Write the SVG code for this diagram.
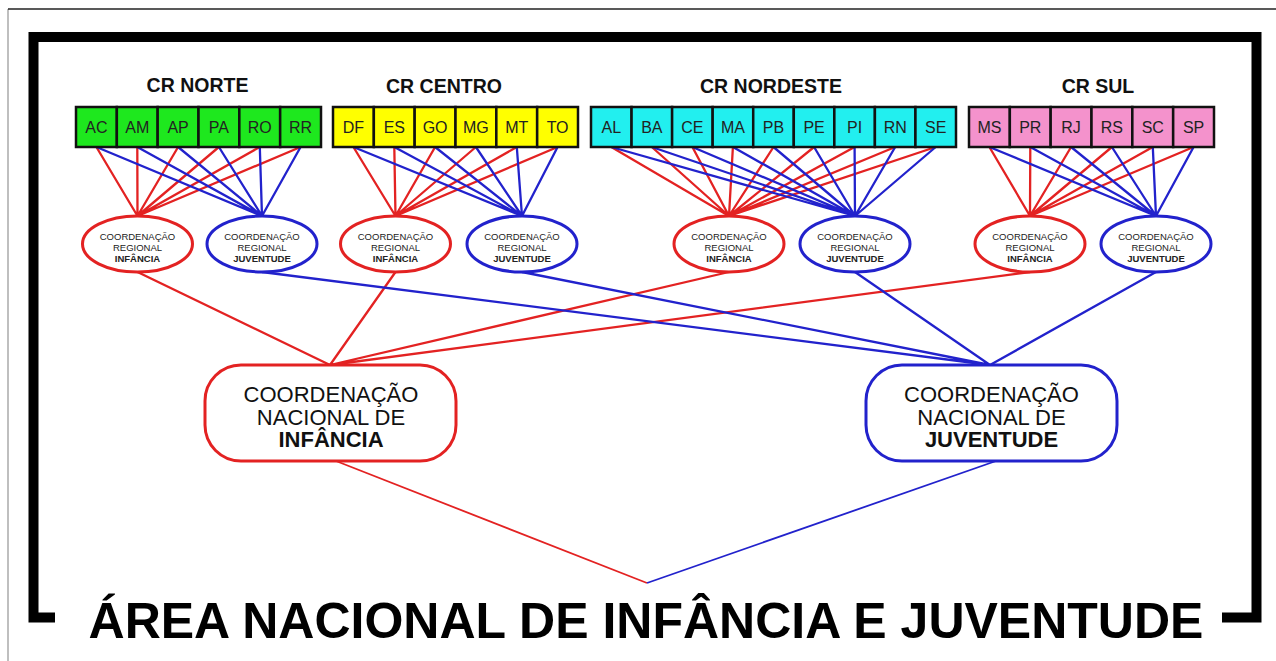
<svg xmlns="http://www.w3.org/2000/svg" width="1276" height="661" viewBox="0 0 1276 661">
<style>
.cell{stroke:#111;stroke-width:2.5}
.g{fill:#1ee81e}.y{fill:#ffff00}.c{fill:#22efef}.p{fill:#f492cc}
.st{font-family:"Liberation Sans",Arial,sans-serif;font-size:16px;fill:#222;text-anchor:middle}
.ttl{font-family:"Liberation Sans",Arial,sans-serif;font-size:19.5px;font-weight:bold;fill:#111;text-anchor:middle}
.ri{fill:#fff;stroke:#e32222;stroke-width:3}
.rj{fill:#fff;stroke:#2222cc;stroke-width:3}
.et{font-family:"Liberation Sans",Arial,sans-serif;font-size:9.5px;fill:#222;text-anchor:middle}
.nt{font-family:"Liberation Sans",Arial,sans-serif;font-size:22px;fill:#111;text-anchor:middle}
.b{font-weight:bold}
.lr{stroke:#e32222;stroke-width:2.3;fill:none}
.lb{stroke:#2222cc;stroke-width:2.3;fill:none}
</style>
<rect width="1276" height="661" fill="#fff"/>
<path d="M8 661 V9" stroke="#aaa" stroke-width="1.5" fill="none"/>
<path d="M8 9 H1276" stroke="#222" stroke-width="1.5" fill="none"/>
<path d="M55 617.5 H33.5 V37 H1256.5 V617.5 H1222" stroke="#000" stroke-width="10" fill="none" stroke-linejoin="miter"/>

<g id="connectors">
<!-- North -->
<g class="lr">
<path d="M96.4 147 L137.5 216 M137.3 147 L137.5 216 M178.1 147 L137.5 216 M218.9 147 L137.5 216 M259.8 147 L137.5 216 M300.6 147 L137.5 216"/>
<path d="M353.4 147 L395.5 216 M394.3 147 L395.5 216 M435.1 147 L395.5 216 M475.9 147 L395.5 216 M516.8 147 L395.5 216 M557.6 147 L395.5 216"/>
<path d="M611.3 147 L729 216 M651.8 147 L729 216 M692.4 147 L729 216 M732.9 147 L729 216 M773.5 147 L729 216 M814.1 147 L729 216 M854.6 147 L729 216 M895.2 147 L729 216 M935.7 147 L729 216"/>
<path d="M989.4 147 L1030 216 M1030.3 147 L1030 216 M1071.1 147 L1030 216 M1111.9 147 L1030 216 M1152.8 147 L1030 216 M1193.6 147 L1030 216"/>
<path d="M137.5 272 L330 365 M395.5 272 L330 365 M729 272 L330 365 M1030 272 L330 365"/>
<path d="M336 461 L647 583" stroke-width="1.8"/>
</g>
<g class="lb">
<path d="M96.4 147 L262 216 M137.3 147 L262 216 M178.1 147 L262 216 M218.9 147 L262 216 M259.8 147 L262 216 M300.6 147 L262 216"/>
<path d="M353.4 147 L522 216 M394.3 147 L522 216 M435.1 147 L522 216 M475.9 147 L522 216 M516.8 147 L522 216 M557.6 147 L522 216"/>
<path d="M611.3 147 L855 216 M651.8 147 L855 216 M692.4 147 L855 216 M732.9 147 L855 216 M773.5 147 L855 216 M814.1 147 L855 216 M854.6 147 L855 216 M895.2 147 L855 216 M935.7 147 L855 216"/>
<path d="M989.4 147 L1156 216 M1030.3 147 L1156 216 M1071.1 147 L1156 216 M1111.9 147 L1156 216 M1152.8 147 L1156 216 M1193.6 147 L1156 216"/>
<path d="M262 272 L990 365 M522 272 L990 365 M855 272 L990 365 M1156 272 L990 365"/>
<path d="M996 461 L647 583" stroke-width="1.8"/>
</g>
</g>

<g id="cr-norte">
<text class="ttl" x="197.5" y="92">CR NORTE</text>
<g class="g">
<rect class="cell" x="76" y="107" width="40.83" height="40"/>
<rect class="cell" x="116.83" y="107" width="40.83" height="40"/>
<rect class="cell" x="157.67" y="107" width="40.83" height="40"/>
<rect class="cell" x="198.5" y="107" width="40.83" height="40"/>
<rect class="cell" x="239.33" y="107" width="40.83" height="40"/>
<rect class="cell" x="280.17" y="107" width="40.83" height="40"/>
</g>
<text class="st" x="96.4" y="133">AC</text>
<text class="st" x="137.3" y="133">AM</text>
<text class="st" x="178.1" y="133">AP</text>
<text class="st" x="218.9" y="133">PA</text>
<text class="st" x="259.8" y="133">RO</text>
<text class="st" x="300.6" y="133">RR</text>
</g>

<g id="cr-centro">
<text class="ttl" x="444" y="93">CR CENTRO</text>
<g class="y">
<rect class="cell" x="333" y="107" width="40.83" height="40"/>
<rect class="cell" x="373.83" y="107" width="40.83" height="40"/>
<rect class="cell" x="414.67" y="107" width="40.83" height="40"/>
<rect class="cell" x="455.5" y="107" width="40.83" height="40"/>
<rect class="cell" x="496.33" y="107" width="40.83" height="40"/>
<rect class="cell" x="537.17" y="107" width="40.83" height="40"/>
</g>
<text class="st" x="353.4" y="133">DF</text>
<text class="st" x="394.3" y="133">ES</text>
<text class="st" x="435.1" y="133">GO</text>
<text class="st" x="475.9" y="133">MG</text>
<text class="st" x="516.8" y="133">MT</text>
<text class="st" x="557.6" y="133">TO</text>
</g>

<g id="cr-nordeste">
<text class="ttl" x="771" y="93">CR NORDESTE</text>
<g class="c">
<rect class="cell" x="591" y="107" width="40.56" height="40"/>
<rect class="cell" x="631.56" y="107" width="40.56" height="40"/>
<rect class="cell" x="672.11" y="107" width="40.56" height="40"/>
<rect class="cell" x="712.67" y="107" width="40.56" height="40"/>
<rect class="cell" x="753.22" y="107" width="40.56" height="40"/>
<rect class="cell" x="793.78" y="107" width="40.56" height="40"/>
<rect class="cell" x="834.33" y="107" width="40.56" height="40"/>
<rect class="cell" x="874.89" y="107" width="40.56" height="40"/>
<rect class="cell" x="915.44" y="107" width="40.56" height="40"/>
</g>
<text class="st" x="611.3" y="133">AL</text>
<text class="st" x="651.8" y="133">BA</text>
<text class="st" x="692.4" y="133">CE</text>
<text class="st" x="732.9" y="133">MA</text>
<text class="st" x="773.5" y="133">PB</text>
<text class="st" x="814.1" y="133">PE</text>
<text class="st" x="854.6" y="133">PI</text>
<text class="st" x="895.2" y="133">RN</text>
<text class="st" x="935.7" y="133">SE</text>
</g>

<g id="cr-sul">
<text class="ttl" x="1098" y="93">CR SUL</text>
<g class="p">
<rect class="cell" x="969" y="107" width="40.83" height="40"/>
<rect class="cell" x="1009.83" y="107" width="40.83" height="40"/>
<rect class="cell" x="1050.67" y="107" width="40.83" height="40"/>
<rect class="cell" x="1091.5" y="107" width="40.83" height="40"/>
<rect class="cell" x="1132.33" y="107" width="40.83" height="40"/>
<rect class="cell" x="1173.17" y="107" width="40.83" height="40"/>
</g>
<text class="st" x="989.4" y="133">MS</text>
<text class="st" x="1030.3" y="133">PR</text>
<text class="st" x="1071.1" y="133">RJ</text>
<text class="st" x="1111.9" y="133">RS</text>
<text class="st" x="1152.8" y="133">SC</text>
<text class="st" x="1193.6" y="133">SP</text>
</g>

<g id="reg-norte-infancia">
<ellipse class="ri" cx="137.5" cy="244" rx="55" ry="28"/>
<text class="et" x="137.5" y="240">COORDENAÇÃO</text><text class="et" x="137.5" y="251">REGIONAL</text><text class="et b" x="137.5" y="262">INFÂNCIA</text>
</g>
<g id="reg-norte-juventude">
<ellipse class="rj" cx="262" cy="244" rx="55" ry="28"/>
<text class="et" x="262" y="240">COORDENAÇÃO</text><text class="et" x="262" y="251">REGIONAL</text><text class="et b" x="262" y="262">JUVENTUDE</text>
</g>
<g id="reg-centro-infancia">
<ellipse class="ri" cx="395.5" cy="244" rx="55" ry="28"/>
<text class="et" x="395.5" y="240">COORDENAÇÃO</text><text class="et" x="395.5" y="251">REGIONAL</text><text class="et b" x="395.5" y="262">INFÂNCIA</text>
</g>
<g id="reg-centro-juventude">
<ellipse class="rj" cx="522" cy="244" rx="55" ry="28"/>
<text class="et" x="522" y="240">COORDENAÇÃO</text><text class="et" x="522" y="251">REGIONAL</text><text class="et b" x="522" y="262">JUVENTUDE</text>
</g>
<g id="reg-nordeste-infancia">
<ellipse class="ri" cx="729" cy="244" rx="55" ry="28"/>
<text class="et" x="729" y="240">COORDENAÇÃO</text><text class="et" x="729" y="251">REGIONAL</text><text class="et b" x="729" y="262">INFÂNCIA</text>
</g>
<g id="reg-nordeste-juventude">
<ellipse class="rj" cx="855" cy="244" rx="55" ry="28"/>
<text class="et" x="855" y="240">COORDENAÇÃO</text><text class="et" x="855" y="251">REGIONAL</text><text class="et b" x="855" y="262">JUVENTUDE</text>
</g>
<g id="reg-sul-infancia">
<ellipse class="ri" cx="1030" cy="244" rx="55" ry="28"/>
<text class="et" x="1030" y="240">COORDENAÇÃO</text><text class="et" x="1030" y="251">REGIONAL</text><text class="et b" x="1030" y="262">INFÂNCIA</text>
</g>
<g id="reg-sul-juventude">
<ellipse class="rj" cx="1156" cy="244" rx="55" ry="28"/>
<text class="et" x="1156" y="240">COORDENAÇÃO</text><text class="et" x="1156" y="251">REGIONAL</text><text class="et b" x="1156" y="262">JUVENTUDE</text>
</g>

<g id="nac-infancia">
<rect class="ri" x="205" y="365" width="251" height="96" rx="36" ry="36"/>
<text class="nt" x="331" y="402">COORDENAÇÃO</text>
<text class="nt" x="331" y="424.5">NACIONAL DE</text>
<text class="nt b" x="331" y="447">INFÂNCIA</text>
</g>
<g id="nac-juventude">
<rect class="rj" x="866" y="365" width="251" height="96" rx="36" ry="36"/>
<text class="nt" x="991.5" y="402">COORDENAÇÃO</text>
<text class="nt" x="991.5" y="424.5">NACIONAL DE</text>
<text class="nt b" x="991.5" y="447">JUVENTUDE</text>
</g>

<g id="title">
<text x="646" y="638" font-family="'Liberation Sans',Arial,sans-serif" font-size="50" font-weight="bold" fill="#000" text-anchor="middle">ÁREA NACIONAL DE INFÂNCIA E JUVENTUDE</text>
</g>
</svg>
